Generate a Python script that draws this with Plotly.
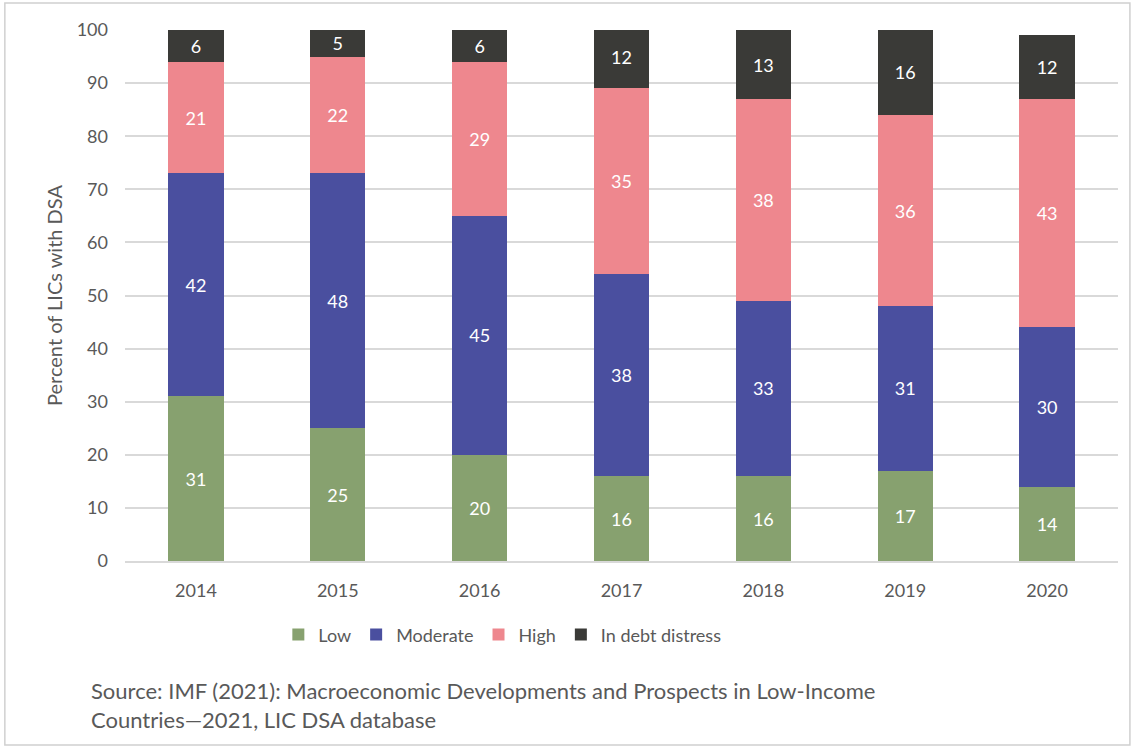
import plotly.graph_objects as go

years = ["2014", "2015", "2016", "2017", "2018", "2019", "2020"]
low = [31, 25, 20, 16, 16, 17, 14]
moderate = [42, 48, 45, 38, 33, 31, 30]
high = [21, 22, 29, 35, 38, 36, 43]
distress = [6, 5, 6, 12, 13, 16, 12]

series = [
    ("Low", low, "#87a16f"),
    ("Moderate", moderate, "#4a4f9f"),
    ("High", high, "#ee878e"),
    ("In debt distress", distress, "#3a3a37"),
]

FONT = "Lato, 'Open Sans', sans-serif"
GREY = "#595959"

fig = go.Figure()
for name, vals, col in series:
    fig.add_trace(go.Bar(
        x=years, y=vals, name=name, marker_color=col, marker_line_width=0,
        text=[str(v) for v in vals], textposition="inside",
        insidetextanchor="middle", textangle=0,
        textfont=dict(color="white", size=18, family=FONT),
    ))

fig.update_layout(
    barmode="stack",
    bargap=0.61,
    width=1134, height=749,
    margin=dict(l=125, r=16, t=30, b=188),
    paper_bgcolor="white", plot_bgcolor="white",
    font=dict(family=FONT, color=GREY, size=18),
    uniformtext=dict(minsize=18, mode="show"),
    legend=dict(orientation="h", x=0.38, xanchor="center", y=-0.139, yanchor="middle",
                font=dict(size=18, color=GREY), itemwidth=30, traceorder="normal"),
    yaxis=dict(range=[0, 100], dtick=10, showgrid=True, gridcolor="#d9d9d9", gridwidth=1.5,
               zeroline=False, showline=False, ticklabelstandoff=16,
               tickfont=dict(size=18, color=GREY),
               title=dict(text="Percent of LICs with DSA", font=dict(size=20, color=GREY), standoff=8)),
    xaxis=dict(showline=True, linecolor="#d9d9d9", linewidth=1.5, ticks="",
               ticklabelstandoff=13, tickfont=dict(size=18, color=GREY)),
    shapes=[dict(type="rect", xref="paper", yref="paper", x0=-0.121, x1=1.012, y0=-0.3465, y1=1.051,
                 line=dict(color="#d0d0d0", width=1.5), fillcolor="rgba(0,0,0,0)", layer="below")],
    annotations=[dict(xref="paper", yref="paper", x=-0.036, y=-0.214, xanchor="left", yanchor="top",
                      align="left", showarrow=False,
                      text="Source: IMF (2021): Macroeconomic Developments and Prospects in Low-Income<br>Countries\u20142021, LIC DSA database",
                      font=dict(size=22, color=GREY))],
)

fig.write_html("out.html", config={"displayModeBar": False},
               post_script="document.body.style.margin='0px';")
